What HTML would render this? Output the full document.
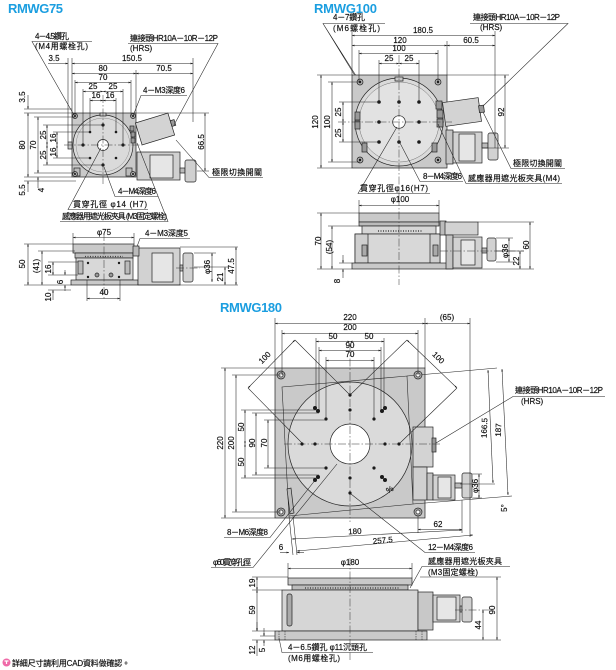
<!DOCTYPE html>
<html><head><meta charset="utf-8"><title>RMWG</title>
<style>
html,body{margin:0;padding:0;background:#fff;width:616px;height:670px;overflow:hidden}
svg{display:block}
text{font-family:"Liberation Sans","Noto Sans CJK TC",sans-serif;font-size:8px;fill:#111;stroke:#111;stroke-width:.18}
.t{font-size:13px;font-weight:bold;fill:#1b9ee0;stroke:none}
.m{text-anchor:middle}
.l{stroke:#222;stroke-width:.55;fill:none}
.d{stroke:#222;stroke-width:.55;fill:none;marker-start:url(#a);marker-end:url(#a)}
.e{stroke:#222;stroke-width:.55;fill:none;marker-end:url(#a)}
.c{stroke:#333;stroke-width:.5;fill:none;stroke-dasharray:8 2 1.5 2}
.s{stroke:#222;stroke-width:.7}
.g1{fill:#c9c9c9}
.g2{fill:#dadada}
.g3{fill:#e6e6e6}
.h{fill:#1a1a1a}
</style></head><body>
<svg width="616" height="670" viewBox="0 0 616 670" xmlns="http://www.w3.org/2000/svg">
<defs>
<marker id="a" viewBox="0 0 6 6" refX="6" refY="3" markerWidth="4.5" markerHeight="4.5" orient="auto-start-reverse"><path d="M0,0.9 L6,3 L0,5.1z" fill="#222"/></marker>
</defs>

<!-- ================= RMWG75 ================= -->
<text class="t" x="8" y="13" textLength="55">RMWG75</text>

<rect x="72" y="113" width="64" height="64" class="g1 s"/>
<rect x="68" y="142" width="4" height="7" class="g1 s"/>
<rect x="74" y="168" width="6" height="8" fill="#bbb" class="s"/>
<rect x="126" y="168" width="6" height="8" fill="#bbb" class="s"/>
<circle cx="103" cy="145" r="30" class="g2 s"/>
<circle cx="103" cy="145" r="27" fill="none" stroke="#777" stroke-width=".4"/>
<rect x="100" y="113" width="6" height="3" class="g1 s"/>
<g class="s" fill="#aaa">
<circle cx="75" cy="116" r="2.5"/><circle cx="133" cy="116" r="2.5"/>
<circle cx="75" cy="174" r="2.5"/><circle cx="133" cy="174" r="2.5"/>
</g>
<g class="h"><circle cx="75" cy="116" r="1"/><circle cx="133" cy="116" r="1"/><circle cx="75" cy="174" r="1"/><circle cx="133" cy="174" r="1"/></g>
<circle cx="103" cy="145" r="5.5" fill="#fff" class="s"/>
<g class="h">
<circle cx="83" cy="145" r="1.6"/><circle cx="123" cy="145" r="1.6"/><circle cx="103" cy="125" r="1.6"/><circle cx="103" cy="165" r="1.6"/>
<circle cx="90" cy="132" r="1.3"/><circle cx="116" cy="132" r="1.3"/><circle cx="90" cy="158" r="1.3"/><circle cx="116" cy="158" r="1.3"/>
</g>
<g fill="#999" class="s">
<rect x="130" y="126" width="4" height="5"/><rect x="131" y="132" width="4" height="5"/><rect x="131" y="138" width="4" height="5"/>
</g>
<rect x="-17" y="-11.5" width="34" height="23" transform="translate(155,129) rotate(-17)" fill="#d3d3d3" class="s"/>
<rect x="-2" y="-3" width="4" height="6" transform="translate(173,123) rotate(-17)" fill="#999" class="s"/>
<rect x="137" y="152" width="43" height="28" fill="#d0d0d0" class="s"/>
<rect x="150" y="155" width="23" height="23" class="g3 s"/>
<rect x="180" y="168" width="5" height="5" fill="#bbb" class="s"/>
<rect x="185" y="160" width="11" height="22" rx="2" fill="#d0d0d0" class="s"/>
<path class="c" d="M64 145H142 M103 95V186"/>

<text x="54" y="61" class="m">3.5</text>
<text x="132" y="61" class="m">150.5</text>
<path class="e" d="M48 63.5H68"/>
<path class="d" d="M72 63.5H193"/>
<text x="103" y="71" class="m">80</text>
<text x="164" y="71" class="m">70.5</text>
<path class="d" d="M72 73.5H136"/><path class="d" d="M136 73.5H193"/>
<text x="103" y="80" class="m">70</text>
<path class="d" d="M75 82.5H131"/>
<text x="93" y="89" class="m">25</text><text x="113" y="89" class="m">25</text>
<path class="d" d="M83 91.5H103"/><path class="d" d="M103 91.5H123"/>
<text x="96" y="98" class="m">16</text><text x="110" y="98" class="m">16</text>
<path class="d" d="M90 100.5H103"/><path class="d" d="M103 100.5H116"/>
<path class="l" d="M68 58V142 M72 58V113 M136 70V113 M193 58V122 M75 80V116 M131 80V116 M83 89V145 M123 89V145 M90 98V132 M116 98V132"/>

<text class="m" transform="translate(22,97) rotate(-90)" y="3">3.5</text>
<path class="e" d="M28 95V109"/>
<text class="m" transform="translate(22,145) rotate(-90)" y="3">80</text>
<path class="d" d="M28 113V177"/>
<text class="m" transform="translate(33,145) rotate(-90)" y="3">70</text>
<path class="d" d="M38 117V173"/>
<text class="m" transform="translate(43,135) rotate(-90)" y="3">25</text>
<text class="m" transform="translate(43,155) rotate(-90)" y="3">25</text>
<path class="d" d="M47 125V145"/><path class="d" d="M47 145V165"/>
<text class="m" transform="translate(53,138) rotate(-90)" y="3">16</text>
<text class="m" transform="translate(53,152) rotate(-90)" y="3">16</text>
<path class="d" d="M57 132V145"/><path class="d" d="M57 145V158"/>
<text class="m" transform="translate(22,190) rotate(-90)" y="3">5.5</text>
<path class="e" d="M28 192V181"/>
<text class="m" transform="translate(41,190) rotate(-90)" y="3">4</text>
<path class="e" d="M38 188V177"/>
<path class="l" d="M24 109H72 M24 113H72 M34 117H75 M43 125H103 M53 132H90 M53 158H90 M43 165H103 M34 173H75 M24 177H72 M24 181H76"/>

<path class="l" d="M136 113H209 M197 171H209"/>
<path class="d" d="M205 113V171"/>
<text class="m" transform="translate(201,142) rotate(-90)" y="3">66.5</text>

<text x="35" y="39" textLength="34">4－4.5鑽孔</text>
<text x="35" y="49" textLength="53">(M4用螺栓孔)</text>
<path class="l" d="M92 41.5H32 L74 115"/>
<text x="130" y="41" textLength="88">連接頭HR10A－10R－12P</text>
<text x="130" y="51">(HRS)</text>
<path class="l" d="M128 43.5H218 L174 125"/>
<text x="143" y="93" textLength="42">4－M3深度6</text>
<path class="l" d="M187 95.5H141 L133 116"/>
<text x="212" y="175" textLength="50">極限切換開關</text>
<path class="l" d="M263 177.5H209 L176 140"/>
<text x="118" y="194" textLength="38">4－M4深度6</text>
<path class="l" d="M158 196.5H115 L104 167"/>
<text x="73" y="207" textLength="74">貫穿孔徑 φ14 (H7)</text>
<path class="l" d="M148 209.5H68 L101 148"/>
<text x="62" y="219" textLength="105">感應器用遮光板夾具 (M3固定螺栓)</text>
<path class="l" d="M60 221.5H168 L137 143"/>

<text x="104" y="235" class="m">φ75</text>
<path class="d" d="M73 237.5H134"/>
<path class="l" d="M73 233V244 M134 233V244"/>
<text x="145" y="236" textLength="43">4－M3深度5</text>
<path class="l" d="M190 238.5H140 L135 252"/>
<rect x="73" y="244" width="61" height="9" class="g1 s"/>
<rect x="75" y="253" width="58" height="5" fill="#bdbdbd" class="s"/>
<path d="M85 256.5H123" stroke="#444" stroke-width="1.2" stroke-dasharray="1 1.5"/>
<rect x="76" y="258" width="57" height="22" fill="#d8d8d8" class="s"/>
<rect x="78" y="261" width="5" height="13" fill="#bbb" class="s"/>
<rect x="125" y="261" width="5" height="13" fill="#bbb" class="s"/>
<g class="h"><circle cx="88" cy="263" r="1.2"/><circle cx="119" cy="263" r="1.2"/><circle cx="88" cy="277" r="1.2"/><circle cx="119" cy="277" r="1.2"/></g>
<circle cx="97" cy="275" r="2" fill="#999" class="s"/><circle cx="111" cy="275" r="2" fill="#999" class="s"/>
<rect x="71" y="280" width="67" height="5" class="g1 s"/>
<rect x="138" y="248" width="42" height="37" fill="#d2d2d2" class="s"/>
<rect x="152" y="253" width="21" height="29" class="g3 s"/>
<rect x="133" y="246" width="6" height="10" fill="#bbb" class="s"/>
<rect x="180" y="265" width="3" height="6" fill="#bbb" class="s"/>
<rect x="183" y="253" width="10" height="29" rx="2" fill="#d2d2d2" class="s"/>
<path class="c" d="M104 233V300 M176 268H200"/>
<path class="l" d="M180 247H238 M194 253H216 M194 267H228 M138 285H238"/>
<path class="d" d="M212 253V282"/>
<text class="m" transform="translate(207,267) rotate(-90)" y="3">φ36</text>
<path class="d" d="M225 267V285"/>
<text class="m" transform="translate(220,277) rotate(-90)" y="3">21</text>
<path class="d" d="M236 247V285"/>
<text class="m" transform="translate(231,266) rotate(-90)" y="3">47.5</text>
<text class="m" transform="translate(22,264) rotate(-90)" y="3">50</text>
<path class="d" d="M28 244V285"/>
<text class="m" transform="translate(36,266) rotate(-90)" y="3">(41)</text>
<path class="d" d="M42 251V285"/>
<text class="m" transform="translate(48,269) rotate(-90)" y="3">16</text>
<path class="d" d="M53 262V275"/>
<text class="m" transform="translate(60,282) rotate(-90)" y="3">6</text>
<path class="e" d="M65 270V275"/><path class="e" d="M65 291V285"/>
<text class="m" transform="translate(48,297) rotate(-90)" y="3">10</text>
<path class="e" d="M53 300V290"/>
<path class="l" d="M24 244H73 M38 251H75 M48 262H78 M48 275H78 M24 285H71 M48 290H71"/>
<text x="104" y="295" class="m">40</text>
<path class="d" d="M87 298.5H120"/>
<path class="l" d="M87 280V301 M120 280V301"/>

<!-- ================= RMWG100 ================= -->
<text class="t" x="314" y="13" textLength="63">RMWG100</text>
<text x="333" y="20" textLength="32">4－7鑽孔</text>
<path class="l" d="M385 23.5H323 L357 79 M323 23.5 L360 82"/>
<text x="333" y="31" textLength="47">(M6螺栓孔)</text>
<text x="473" y="20" textLength="87">連接頭HR10A－10R－12P</text>
<text x="480" y="30">(HRS)</text>
<path class="l" d="M470 23.5H568 L481 108"/>

<rect x="352" y="75" width="95" height="93" class="g1 s"/>
<circle cx="399" cy="122" r="44" class="g2 s"/>
<circle cx="399" cy="122" r="40" fill="#e2e2e2" stroke="#555" stroke-width=".4"/>
<rect x="395" y="77" width="8" height="4" class="g1 s"/>
<g class="s" fill="#aaa">
<circle cx="360" cy="82" r="3"/><circle cx="438" cy="82" r="3"/><circle cx="360" cy="160" r="3"/><circle cx="438" cy="160" r="3"/>
</g>
<g class="h"><circle cx="360" cy="82" r="1.2"/><circle cx="438" cy="82" r="1.2"/><circle cx="360" cy="160" r="1.2"/><circle cx="438" cy="160" r="1.2"/></g>
<g fill="#999" class="s">
<rect x="355" y="112" width="5" height="8"/><rect x="355" y="121" width="5" height="8"/>
<rect x="362" y="143" width="5" height="9"/>
<rect x="436" y="101" width="6" height="8"/><rect x="437" y="110" width="6" height="8"/><rect x="437" y="119" width="6" height="8"/>
<rect x="432" y="143" width="5" height="9"/>
</g>
<circle cx="399" cy="122" r="6.3" fill="#fff" class="s"/>
<g class="h">
<circle cx="379" cy="102" r="1.8"/><circle cx="399" cy="102" r="1.8"/><circle cx="419" cy="102" r="1.8"/>
<circle cx="379" cy="122" r="1.8"/><circle cx="419" cy="122" r="1.8"/>
<circle cx="379" cy="142" r="1.8"/><circle cx="399" cy="142" r="1.8"/><circle cx="419" cy="142" r="1.8"/>
</g>
<rect x="-18" y="-12" width="36" height="24" transform="translate(462,112) rotate(-8)" fill="#d3d3d3" class="s"/>
<rect x="-2" y="-3.5" width="5" height="7" transform="translate(481,109) rotate(-8)" fill="#999" class="s"/>
<rect x="446" y="130" width="7" height="34" fill="#c4c4c4" class="s"/>
<rect x="453" y="132" width="29" height="31" fill="#d2d2d2" class="s"/>
<rect x="459" y="134" width="16" height="27" class="g3 s"/>
<rect x="482" y="143" width="6" height="5" fill="#bbb" class="s"/>
<rect x="488" y="133" width="10" height="27" rx="2" fill="#d2d2d2" class="s"/>
<path class="c" d="M338 122H452 M399 55V200"/>

<text x="423" y="33" class="m">180.5</text>
<path class="d" d="M352 35.5H495"/>
<text x="400" y="43" class="m">120</text><text x="471" y="43" class="m">60.5</text>
<path class="d" d="M352 45.5H447"/><path class="d" d="M447 45.5H495"/>
<text x="399" y="51" class="m">100</text>
<path class="d" d="M359 53.5H438"/>
<text x="389" y="61" class="m">25</text><text x="409" y="61" class="m">25</text>
<path class="d" d="M379 63.5H399"/><path class="d" d="M399 63.5H419"/>
<path class="l" d="M352 31V75 M447 41V75 M495 31V148 M359 50V82 M438 50V82 M379 60V102 M419 60V102"/>
<text class="m" transform="translate(315,122) rotate(-90)" y="3">120</text>
<path class="d" d="M321 75V168"/>
<text class="m" transform="translate(327,122) rotate(-90)" y="3">100</text>
<path class="d" d="M332 82V162"/>
<text class="m" transform="translate(338,112) rotate(-90)" y="3">25</text>
<text class="m" transform="translate(338,133) rotate(-90)" y="3">25</text>
<path class="d" d="M343 102V122"/><path class="d" d="M343 122V142"/>
<path class="l" d="M317 75H352 M328 82H360 M339 102H379 M339 142H379 M328 162H360 M317 168H352"/>
<path class="l" d="M447 75H509 M482 148H509"/>
<path class="d" d="M505 75V148"/>
<text class="m" transform="translate(501,112) rotate(-90)" y="3">92</text>
<text x="513" y="166" textLength="49">極限切換開關</text>
<path class="l" d="M565 168.5H511 L483 112"/>
<text x="423" y="179" textLength="39">8－M4深度6</text>
<path class="l" d="M463 181.5H420 L400 143"/>
<text x="468" y="181" textLength="92">感應器用遮光板夾具(M4)</text>
<path class="l" d="M562 183.5H466 L438 124"/>
<text x="360" y="191" textLength="68">貫穿孔徑φ16(H7)</text>
<path class="l" d="M430 193.5H358 L397 127"/>

<text x="400" y="202" class="m">φ100</text>
<path class="d" d="M359 205.5H439"/>
<path class="l" d="M359 200V213 M439 200V213"/>
<rect x="359" y="213" width="80" height="9" class="g1 s"/>
<rect x="359" y="222" width="80" height="4" fill="#bbb" class="s"/>
<rect x="362" y="226" width="74" height="8" fill="#d6d6d6" class="s"/>
<path d="M378 231H423" stroke="#444" stroke-width="1.4" stroke-dasharray="1 1.5"/>
<rect x="355" y="234" width="85" height="29" fill="#d8d8d8" class="s"/>
<rect x="355" y="234" width="13" height="29" fill="#cfcfcf" class="s"/>
<rect x="362" y="245" width="5" height="11" fill="#aaa" class="s"/>
<rect x="430" y="234" width="10" height="29" fill="#cfcfcf" class="s"/>
<rect x="433" y="245" width="5" height="11" fill="#aaa" class="s"/>
<rect x="352" y="263" width="95" height="6" class="g1 s"/>
<rect x="440" y="221" width="6" height="14" fill="#bbb" class="s"/>
<rect x="445" y="222" width="33" height="13" fill="#d2d2d2" class="s"/>
<rect x="446" y="235" width="7" height="34" fill="#c4c4c4" class="s"/>
<rect x="453" y="237" width="29" height="31" fill="#d2d2d2" class="s"/>
<rect x="461" y="240" width="14" height="25" class="g3 s"/>
<rect x="482" y="248" width="5" height="5" fill="#bbb" class="s"/>
<rect x="487" y="238" width="9" height="23" rx="2" fill="#d2d2d2" class="s"/>
<path class="c" d="M399 198V285 M440 251H524"/>
<path class="l" d="M478 222H534 M496 238H513 M496 262H513 M496 251H524 M447 269H534"/>
<path class="d" d="M509 238V262"/>
<text class="m" transform="translate(505,251) rotate(-90)" y="3">φ36</text>
<path class="d" d="M520 251V269"/>
<text class="m" transform="translate(516,261) rotate(-90)" y="3">22</text>
<path class="d" d="M530 222V269"/>
<text class="m" transform="translate(526,245) rotate(-90)" y="3">60</text>
<text class="m" transform="translate(318,241) rotate(-90)" y="3">70</text>
<path class="d" d="M321 213V269"/>
<text class="m" transform="translate(329,247) rotate(-90)" y="3">(54)</text>
<path class="d" d="M332 226V269"/>
<text class="m" transform="translate(337,281) rotate(-90)" y="3">8</text>
<path class="e" d="M343 255V263"/><path class="e" d="M343 278V269"/>
<path class="l" d="M317 213H359 M328 226H362 M339 263H352 M317 269H352"/>

<!-- ================= RMWG180 ================= -->
<text class="t" x="220" y="312" textLength="62">RMWG180</text>

<rect x="275" y="368" width="150" height="150" class="g1 s"/>
<circle cx="350" cy="444" r="62" class="g2 s"/>
<polygon points="282,387 407,376 413,504 289,516" fill="none" class="l"/>
<path class="l" d="M407 376L497 368 M413 504L512 496"/>
<rect x="413" y="427" width="20" height="40" fill="#d3d3d3" class="s"/>
<rect x="432" y="438" width="4" height="14" fill="#999" class="s"/>
<rect x="413" y="467" width="14" height="33" fill="#d0d0d0" class="s"/>
<rect x="427" y="473" width="6" height="27" fill="#c4c4c4" class="s"/>
<rect x="433" y="475" width="22" height="25" fill="#d2d2d2" class="s"/>
<rect x="438" y="477" width="13" height="21" class="g3 s"/>
<rect x="455" y="483" width="7" height="5" fill="#bbb" class="s"/>
<rect x="462" y="473" width="10" height="25" rx="2" fill="#d2d2d2" class="s"/>
<polygon points="287,489 291,488 294,513 290,514" fill="#bbb" class="s"/>
<g class="s" fill="#aaa">
<circle cx="281" cy="375" r="4"/><circle cx="418" cy="375" r="4"/><circle cx="281" cy="512" r="4"/><circle cx="418" cy="512" r="4"/>
</g>
<g class="s" fill="#fff"><circle cx="281" cy="375" r="2"/><circle cx="418" cy="375" r="2"/><circle cx="281" cy="512" r="2"/><circle cx="418" cy="512" r="2"/></g>
<circle cx="350" cy="444" r="20" fill="#fff" class="s"/>
<path class="c" d="M284 444H440 M350 345V522"/>
<g class="h">
<circle cx="350" cy="395" r="1.6"/><circle cx="350" cy="410" r="1.6"/><circle cx="350" cy="478" r="1.6"/><circle cx="350" cy="493" r="1.6"/>
<circle cx="302" cy="444" r="1.6"/><circle cx="315" cy="444" r="1.6"/><circle cx="385" cy="444" r="1.6"/><circle cx="399" cy="444" r="1.6"/>
<circle cx="326" cy="419" r="1.6"/><circle cx="374" cy="419" r="1.6"/><circle cx="326" cy="468" r="1.6"/><circle cx="374" cy="468" r="1.6"/>
<circle cx="315" cy="408" r="2"/><circle cx="318" cy="411" r="2"/><circle cx="385" cy="408" r="2"/><circle cx="382" cy="411" r="2"/>
<circle cx="315" cy="480" r="2"/><circle cx="318" cy="477" r="2"/><circle cx="385" cy="480" r="2"/><circle cx="382" cy="477" r="2"/>
</g>
<text x="386" y="492" transform="rotate(-30 390 489)">%</text>

<path class="d" d="M248 388L295 340"/>
<path class="l" d="M295 340L350 395 M248 388L302 443"/>
<text class="m" transform="translate(268,361) rotate(-45)" y="-2">100</text>
<path class="d" d="M407 340L457 388"/>
<path class="l" d="M407 340L350 395 M457 388L400 443"/>
<text class="m" transform="translate(435,361) rotate(45)" y="-2">100</text>

<text x="350" y="320" class="m">220</text>
<text x="447" y="320" class="m">(65)</text>
<path class="d" d="M275 323.5H425"/><path class="d" d="M425 323.5H470"/>
<text x="350" y="330" class="m">200</text>
<path class="d" d="M282 333.5H418"/>
<text x="333" y="339" class="m">50</text><text x="369" y="339" class="m">50</text>
<path class="d" d="M316 341.5H350"/><path class="d" d="M350 341.5H384"/>
<text x="350" y="348" class="m">90</text>
<path class="d" d="M319 350.5H381"/>
<text x="350" y="357" class="m">70</text>
<path class="d" d="M326 360.5H374"/>
<path class="l" d="M275 318V368 M425 318V368 M470 318V537 M282 330V375 M418 330V375 M316 338V408 M384 338V408 M319 347V411 M381 347V411 M326 357V419 M374 357V419"/>

<text class="m" transform="translate(220,443) rotate(-90)" y="3">220</text>
<path class="d" d="M225 368V518"/>
<text class="m" transform="translate(231,443) rotate(-90)" y="3">200</text>
<path class="d" d="M236 375V512"/>
<text class="m" transform="translate(241,427) rotate(-90)" y="3">50</text>
<text class="m" transform="translate(241,462) rotate(-90)" y="3">50</text>
<path class="d" d="M245 410V444"/><path class="d" d="M245 444V478"/>
<text class="m" transform="translate(252,443) rotate(-90)" y="3">90</text>
<path class="d" d="M256 413V475"/>
<text class="m" transform="translate(264,443) rotate(-90)" y="3">70</text>
<path class="d" d="M268 420V468"/>
<path class="l" d="M221 368H275 M232 375H281 M241 410H316 M241 478H316 M252 413H319 M252 475H319 M264 420H326 M264 468H326 M221 518H275 M232 512H281"/>

<path class="d" d="M488 370L493 483"/>
<text class="m" transform="translate(484,428) rotate(-88)" y="3">166.5</text>
<path class="d" d="M502 369L508 495"/>
<text class="m" transform="translate(498,430) rotate(-88)" y="3">187</text>
<path class="l" d="M460 484H495"/>
<text class="m" transform="translate(504,508) rotate(-90)" y="3">5°</text>
<path class="d" d="M479 474V498"/>
<text class="m" transform="translate(475,486) rotate(-90)" y="3">φ36</text>
<path class="l" d="M472 474H482 M472 498H482"/>

<text x="438" y="527" class="m">62</text>
<path class="d" d="M418 529.5H462"/>
<path class="l" d="M418 516V533 M462 500V533"/>
<text x="355" y="534" class="m" transform="rotate(-3 355 534)">180</text>
<path class="d" d="M292 539L462 530"/>
<text x="383" y="543" class="m" transform="rotate(-5 383 543)">257.5</text>
<path class="d" d="M297 551L473 535"/>
<path class="l" d="M289 516L293 555 M293 516L297 555"/>
<text x="281" y="550" class="m">6</text>
<path class="e" d="M280 552.5H289"/><path class="e" d="M304 552.5H297"/>

<text x="515" y="393" textLength="88">連接頭HR10A－10R－12P</text>
<text x="521" y="404">(HRS)</text>
<path class="l" d="M605 396.5H513 L436 443"/>
<text x="227" y="535" textLength="41">8－M6深度8</text>
<path class="l" d="M224 537.5H270 L316 479"/>
<text x="213" y="565" textLength="38">φ60貫穿孔徑</text>
<path class="l" d="M211 567.5H253 L337 464"/>
<text x="428" y="550" textLength="45">12－M4深度6</text>
<path class="l" d="M475 552.5H425 L351 494"/>

<text x="350" y="565" class="m">φ180</text>
<path class="d" d="M288 568.5H412"/>
<path class="l" d="M288 563V578 M412 563V578"/>
<text x="428" y="564" textLength="74">感應器用遮光板夾具</text>
<text x="428" y="575" textLength="50">(M3固定螺栓)</text>
<path class="l" d="M510 566.5H422 L410 588"/>
<rect x="288" y="578" width="124" height="7" class="g1 s"/>
<rect x="292" y="585" width="116" height="5" fill="#bbb" class="s"/>
<path d="M305 588H400" stroke="#333" stroke-width="1.2" stroke-dasharray="1 1.5"/>
<rect x="282" y="590" width="136" height="41" fill="#d6d6d6" class="s"/>
<rect x="287" y="594" width="5" height="32" rx="2" fill="#aaa" class="s"/>
<rect x="275" y="631" width="152" height="9" class="g1 s"/>
<path class="l" d="M279 631V640 M285 631V640 M416 631V640 M422 631V640" stroke-dasharray="1.5 1"/>
<rect x="418" y="592" width="15" height="38" fill="#c8c8c8" class="s"/>
<rect x="433" y="595" width="27" height="27" fill="#d2d2d2" class="s"/>
<rect x="437" y="597" width="19" height="23" class="g3 s"/>
<rect x="460" y="606" width="3" height="6" fill="#bbb" class="s"/>
<rect x="462" y="597" width="10" height="25" rx="2" fill="#d2d2d2" class="s"/>
<path class="c" d="M350 558V660 M455 610H490"/>
<path class="l" d="M420 577H501 M427 640H501"/>
<path class="d" d="M497 577V640"/>
<text class="m" transform="translate(492,610) rotate(-90)" y="3">90</text>
<path class="d" d="M483 610V640"/>
<text class="m" transform="translate(478,625) rotate(-90)" y="3">44</text>
<path class="l" d="M252 577H288 M252 590H282 M252 631H275 M252 640H275 M260 636H275"/>
<path class="d" d="M257 577V590"/><path class="d" d="M257 590V631"/>
<path class="e" d="M257 622V631"/><path class="e" d="M257 656V640"/>
<path class="e" d="M264 646V640"/><path class="e" d="M264 628V636"/>
<text class="m" transform="translate(252,583) rotate(-90)" y="3">19</text>
<text class="m" transform="translate(252,610) rotate(-90)" y="3">59</text>
<text class="m" transform="translate(252,650) rotate(-90)" y="3">12</text>
<text class="m" transform="translate(262,650) rotate(-90)" y="3">5</text>
<text x="288" y="650" textLength="79">4－6.5鑽孔 φ11沉頭孔</text>
<path class="l" d="M373 652.5H282 L279 638"/>
<text x="288" y="661" textLength="52">(M6用螺栓孔)</text>

<circle cx="6.5" cy="662.5" r="4" fill="#ef6aa8"/>
<path d="M4.5 661h4M6.5 661v3" stroke="#fff" stroke-width="1.2"/>
<text x="12" y="666" textLength="118">詳細尺寸請利用CAD資料做確認。</text>
</svg>
</body></html>
